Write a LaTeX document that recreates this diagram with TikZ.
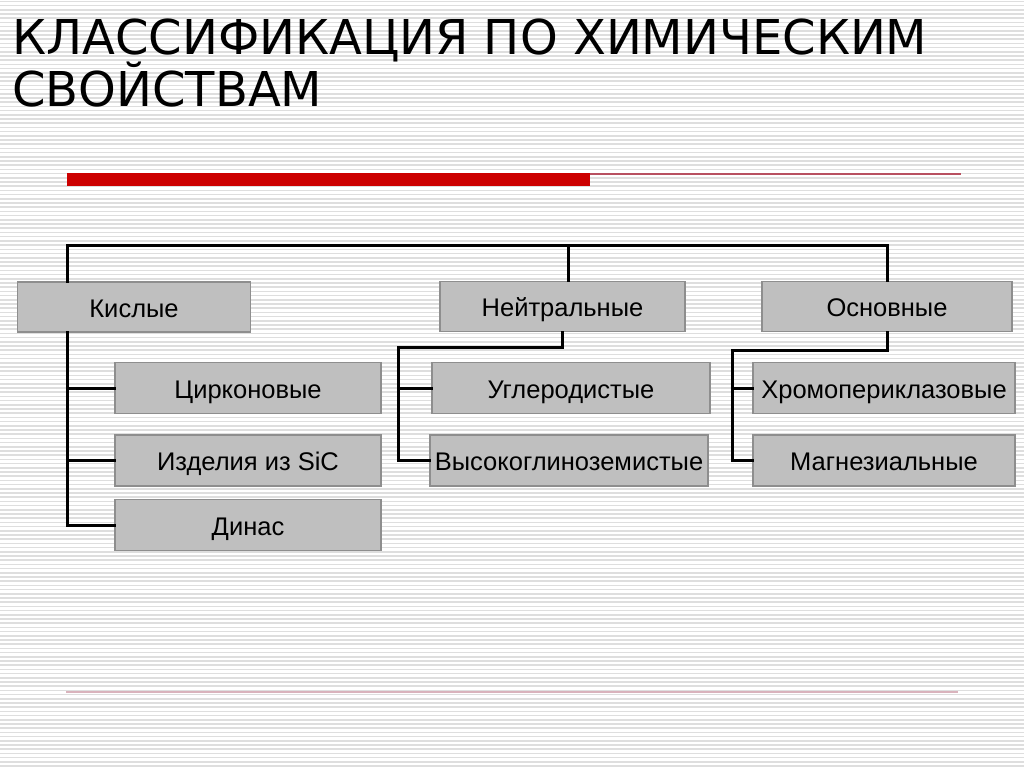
\documentclass[tikz,border=0pt]{standalone}
\usepackage{fontspec}
\setmainfont{Liberation Sans}
\newfontfamily\titlefont{DejaVu Sans}
\usepackage{xcolor}
\usepackage{tikz}
\usetikzlibrary{positioning}
\definecolor{boxfill}{HTML}{BFBFBF}
\definecolor{boxline}{HTML}{8E8E8E}
\definecolor{stripegray}{HTML}{DEDEDE}
\definecolor{barred}{HTML}{CC0000}
\definecolor{thinred}{HTML}{B85060}
\definecolor{softpink}{HTML}{D9B3BC}

\begin{document}
\begin{tikzpicture}[
x=1pt, y=-1pt,
every node/.style={align=center, inner sep=0pt, font=\fontsize{25.5}{30}\selectfont},
conn/.style={line width=3pt, line cap=rect}
]

% Define styles
\tikzstyle{group} = [rectangle, fill=boxfill, draw=boxline, line width=1.2pt, minimum height=50pt, text height=20pt, text depth=0pt]
\tikzstyle{kind} = [rectangle, fill=boxfill, draw=boxline, line width=1.2pt, minimum height=51pt, text height=20pt, text depth=0pt]

% Background
\useasboundingbox (0,0) rectangle (1024,767);
\fill[white] (0,0) rectangle (1024,767);
\foreach \i in {0,...,182}
  \draw[stripegray, line width=1.6pt] (0,\i*4.2+1.5) -- (1024,\i*4.2+1.5);

% Title
\node (title) [anchor=base west, font=\titlefont\fontsize{48}{52}\selectfont] at (12,55) {КЛАССИФИКАЦИЯ ПО ХИМИЧЕСКИМ};
\node (title2) [anchor=base west, font=\titlefont\fontsize{48}{52}\selectfont] at (12,107) {СВОЙСТВАМ};

% Rules
\fill[barred] (67,173) rectangle (590,186);
\draw[thinred, line width=1.5pt] (590,174) -- (961,174);
\draw[softpink, line width=2pt] (66,692) -- (958,692);

% Nodes
\node (kisl) [group, minimum width=233pt] at (134,307) {Кислые};
\node (neut) [group, minimum width=245pt] at (562.5,306.5) {Нейтральные};
\node (osn) [group, minimum width=250pt] at (887,306.5) {Основные};

\node (zirk) [kind, minimum width=266pt] at (248,388) {Цирконовые};
\node (sic) [kind, minimum width=266pt] at (248,460.5) {Изделия из SiC};
\node (dinas) [kind, minimum width=266pt] at (248,525) {Динас};

\node (uglerod) [kind, minimum width=278pt] at (571,388) {Углеродистые};
\node (vysoko) [kind, minimum width=278pt] at (569,460.5) {Высокоглиноземистые};

\node (chromo) [kind, minimum width=262pt] at (884,388) {Хромопериклазовые};
\node (magn) [kind, minimum width=262pt] at (884,460.5) {Магнезиальные};

% Lines
\coordinate (busL) at (67,245);
\coordinate (busM) at (568,245);
\coordinate (busR) at (887,245);
\coordinate (nL) at (398,347);
\coordinate (oL) at (732,350);

\draw [conn] (kisl.north -| busL) -- (busL) -- (busR) -- (osn.north);
\draw [conn] (busM) -- (busM |- neut.north);

\draw [conn] (kisl.south -| busL) |- (dinas.west);
\draw [conn] (busL |- zirk.west) -- (zirk.west);
\draw [conn] (busL |- sic.west) -- (sic.west);

\draw [conn] (neut.south) |- (nL) |- (vysoko.west);
\draw [conn] (nL |- uglerod.west) -- (uglerod.west);

\draw [conn] (osn.south) |- (oL) |- (magn.west);
\draw [conn] (oL |- chromo.west) -- (chromo.west);

\end{tikzpicture}
\end{document}
